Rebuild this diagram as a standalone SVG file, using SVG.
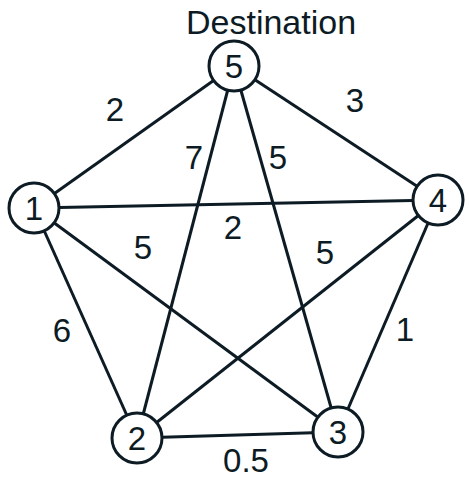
<svg xmlns="http://www.w3.org/2000/svg" width="469" height="480" viewBox="0 0 469 480">
<style>
.e{stroke:#0d1b24;stroke-width:3;fill:none}
.n circle{fill:#fff;stroke:#0d1b24;stroke-width:3}
text{font-family:"Liberation Sans",Arial,sans-serif;font-size:33px;fill:#0d1b24;text-anchor:middle}
text.title{font-size:34px;text-anchor:start}
</style>
<rect width="469" height="480" fill="#fff"/>
<g id="connectors" class="e">
<line x1="234" y1="66" x2="34" y2="208"/>
<line x1="234" y1="66" x2="438" y2="200"/>
<line x1="234" y1="66" x2="137" y2="438"/>
<line x1="234" y1="66" x2="338" y2="432"/>
<line x1="34" y1="208" x2="438" y2="200"/>
<line x1="34" y1="208" x2="137" y2="438"/>
<line x1="34" y1="208" x2="338" y2="432"/>
<line x1="438" y1="200" x2="137" y2="438"/>
<line x1="438" y1="200" x2="338" y2="432"/>
<line x1="137" y1="438" x2="338" y2="432"/>
</g>
<g id="edge-labels">
<text x="115" y="121">2</text>
<text x="355" y="112">3</text>
<text x="194" y="169">7</text>
<text x="278" y="169">5</text>
<text x="233" y="239">2</text>
<text x="143" y="259">5</text>
<text x="325" y="264">5</text>
<text x="62" y="342">6</text>
<text x="405" y="341">1</text>
<text x="246" y="472">0.5</text>
</g>
<text class="title" x="186" y="34">Destination</text>
<g id="node5" class="n"><circle cx="234" cy="66" r="25"/><text x="234" y="78">5</text></g>
<g id="node1" class="n"><circle cx="34" cy="208" r="25"/><text x="34" y="220">1</text></g>
<g id="node4" class="n"><circle cx="438" cy="200" r="25"/><text x="438" y="212">4</text></g>
<g id="node2" class="n"><circle cx="137" cy="438" r="25"/><text x="137" y="450">2</text></g>
<g id="node3" class="n"><circle cx="338" cy="432" r="25"/><text x="338" y="444">3</text></g>
</svg>
